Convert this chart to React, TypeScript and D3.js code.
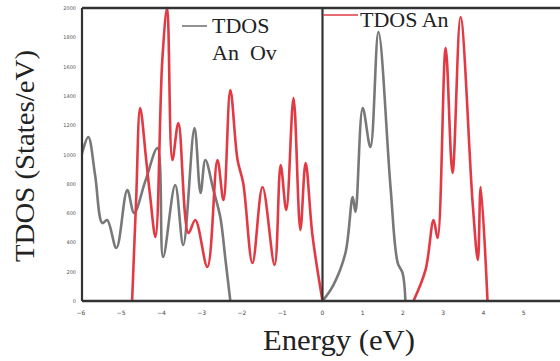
import React from "react";
import * as d3 from "d3";

// Energy (eV) and TDOS (States/eV)
const grayLeftE = [-6.0, -5.82, -5.65, -5.47, -5.35, -5.12, -4.85, -4.68, -4.4, -4.1, -3.96, -3.66, -3.46, -3.18, -3.03, -2.91, -2.71, -2.54, -2.41, -2.29];
const grayLeftD = [980, 1119, 860, 532, 553, 362, 758, 601, 820, 1044, 300, 792, 382, 1181, 737, 962, 758, 573, 280, 0];

const grayRightE = [0, 0.27, 0.57, 0.75, 0.82, 1.0, 1.19, 1.39, 1.69, 1.87, 1.99, 2.06];
const grayRightD = [0, 109, 328, 710, 608, 1317, 1051, 1836, 778, 259, 191, 0];

const redLeftE = [-4.73, -4.63, -4.53, -4.38, -4.28, -4.15, -3.98, -3.86, -3.73, -3.58, -3.33, -3.16, -2.86, -2.61, -2.46, -2.29, -2.11, -1.97, -1.74, -1.49, -1.19, -1.04, -0.9, -0.72, -0.55, -0.42, -0.25, 0];
const redLeftD = [0, 690, 1317, 962, 710, 437, 1645, 2000, 962, 1215, 464, 553, 232, 962, 689, 1440, 962, 805, 259, 778, 246, 928, 621, 1386, 485, 942, 450, 0];

const redRightE = [2.26, 2.56, 2.76, 2.86, 3.06, 3.23, 3.43, 3.73, 3.86, 3.93, 4.1];
const redRightD = [0, 212, 553, 430, 1727, 874, 1939, 669, 280, 778, 0];

const xTicks = [-6, -5, -4, -3, -2, -1, 0, 1, 2, 3, 4, 5];
const yTicks = [0, 200, 400, 600, 800, 1000, 1200, 1400, 1600, 1800, 2000];

const W = 560;
const H = 361;
const left = 82;
const bottom = 301;
const top = 8;

export default function App() {
  const x = d3.scaleLinear().domain([0, 4]).range([322.5, 483.5]);
  const y = d3.scaleLinear().domain([0, 2000]).range([bottom, top]);
  const line = d3
    .line<[number, number]>()
    .x((d) => x(d[0]))
    .y((d) => Math.min(bottom, y(d[1])))
    .curve(d3.curveCatmullRom.alpha(0.5));
  const zip = (a: number[], b: number[]) => a.map((v, i) => [v, b[i]] as [number, number]);

  const gray = "#787878";
  const red = "#e23a44";
  const serif = "'Liberation Serif', 'DejaVu Serif', serif";

  return (
    <svg
      width={W}
      height={H}
      style={{ position: "absolute", left: 0, top: 0, background: "#fff" }}
    >
      <defs>
        <clipPath id="plot">
          <rect x={left} y={top - 2} width={W - left} height={bottom - top + 2} />
        </clipPath>
      </defs>
      <rect x={0} y={0} width={W} height={H} fill="#fff" />
      <g fill="none" strokeLinejoin="round" strokeLinecap="round" clipPath="url(#plot)">
        <path d={line(zip(grayLeftE, grayLeftD)) || ""} stroke={gray} strokeWidth={2.6} />
        <path d={line(zip(grayRightE, grayRightD)) || ""} stroke={gray} strokeWidth={2.6} />
        <path d={line(zip(redLeftE, redLeftD)) || ""} stroke={red} strokeWidth={2.6} />
        <path d={line(zip(redRightE, redRightD)) || ""} stroke={red} strokeWidth={2.6} />
      </g>
      {/* frame */}
      <line x1={left} x2={W} y1={top} y2={top} stroke="#333" strokeWidth={2.5} />
      <line x1={left} x2={W} y1={bottom} y2={bottom} stroke="#333" strokeWidth={2.5} />
      <line x1={left} x2={left} y1={top} y2={bottom} stroke="#333" strokeWidth={2.2} />
      <line x1={x(0)} x2={x(0)} y1={top} y2={bottom} stroke="#333" strokeWidth={2.2} />
      {/* y tick labels */}
      {yTicks.map((t) => (
        <text key={t} x={left - 6} y={y(t) + 2} fontSize={5} textAnchor="end" fill="#555" fontFamily="DejaVu Sans, sans-serif">
          {t}
        </text>
      ))}
      {/* x tick labels */}
      {xTicks.map((t) => (
        <text key={t} x={x(t)} y={315} fontSize={6} textAnchor="middle" fill="#444" fontFamily="DejaVu Sans, sans-serif">
          {t < 0 ? "\u2212" + Math.abs(t) : t}
        </text>
      ))}
      {/* axis titles */}
      <text
        x={(263 + 415) / 2}
        y={350}
        fontSize={30}
        textAnchor="middle"
        fontFamily={serif}
        fill="#222"
        textLength={152}
        lengthAdjust="spacingAndGlyphs"
      >
        Energy (eV)
      </text>
      <text
        transform={`translate(34, ${(50 + 262) / 2}) rotate(-90)`}
        fontSize={27}
        textAnchor="middle"
        fontFamily={serif}
        fill="#222"
        textLength={212}
        lengthAdjust="spacingAndGlyphs"
      >
        TDOS (States/eV)
      </text>
      {/* legends */}
      <line x1={182} x2={207} y1={26} y2={26} stroke="#555" strokeWidth={1.3} />
      <text x={212} y={33} fontSize={22} fontFamily={serif} fill="#222">
        TDOS
      </text>
      <text x={212} y={60} fontSize={22} fontFamily={serif} fill="#222" style={{ whiteSpace: "pre" }}>
        {"An  Ov"}
      </text>
      <line x1={323} x2={358} y1={15} y2={15} stroke={red} strokeWidth={1.3} />
      <text x={360} y={27} fontSize={22} fontFamily={serif} fill="#222">
        TDOS An
      </text>
    </svg>
  );
}
